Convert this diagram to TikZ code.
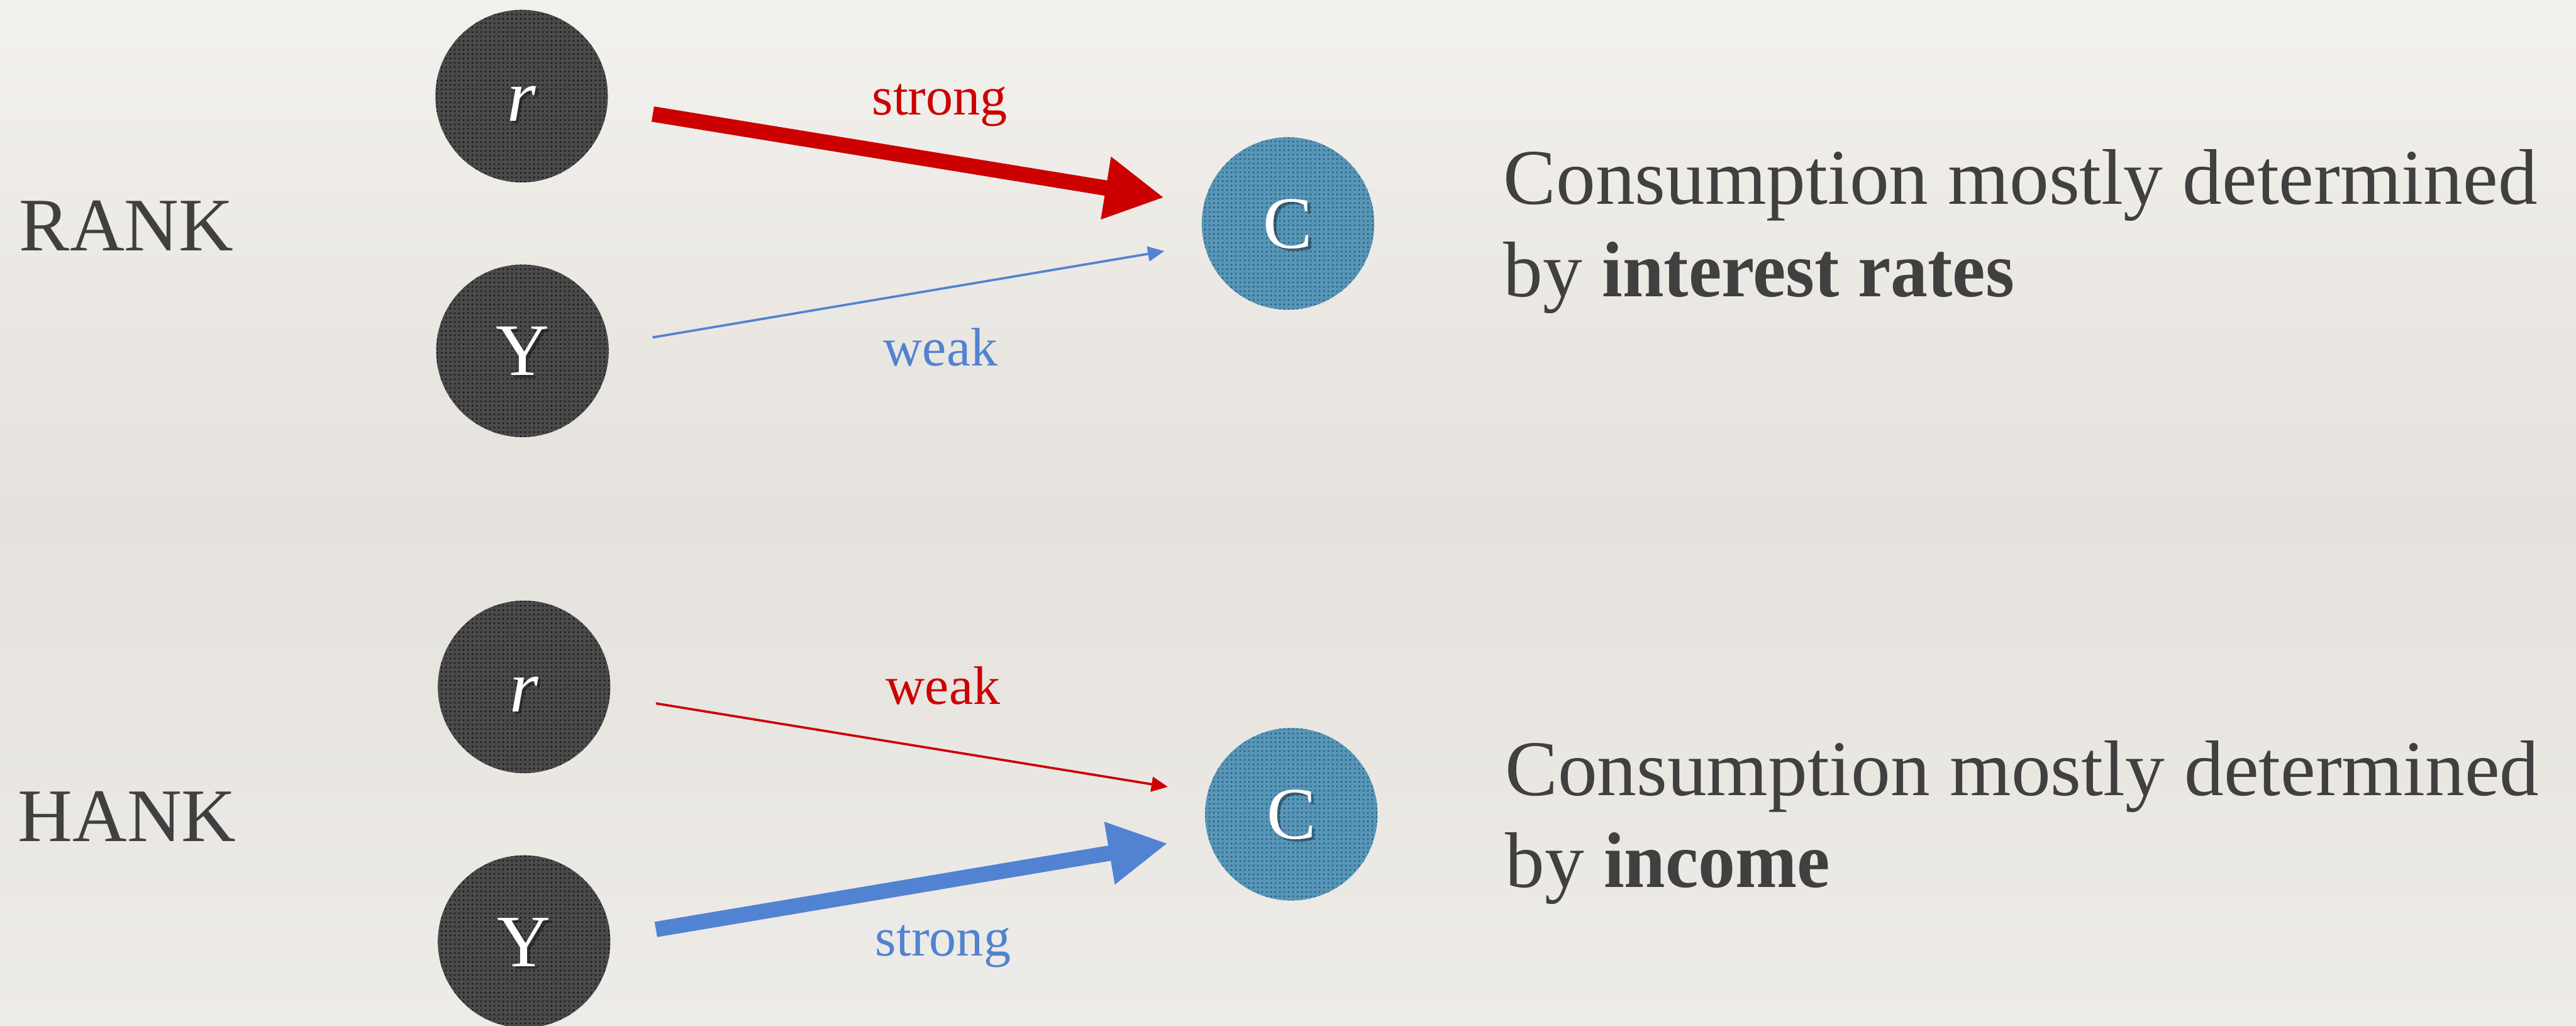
\documentclass[tikz,border=0pt]{standalone}
\usepackage{fontspec}
\setmainfont{Liberation Serif}[BoldFeatures={FakeStretch=0.94}]
\usetikzlibrary{arrows.meta,patterns.meta}

\definecolor{paperTop}{HTML}{F3F1ED}
\definecolor{paperMid}{HTML}{E5E2DD}
\definecolor{paperBot}{HTML}{EEECE8}
\definecolor{ink}{HTML}{404040}
\definecolor{strongred}{HTML}{CC0000}
\definecolor{softblue}{HTML}{5282D2}
\definecolor{ballgrey}{HTML}{4A4A4A}
\definecolor{balldot}{HTML}{1A1A1A}
\definecolor{cblue}{HTML}{5896B8}
\definecolor{cdot}{HTML}{2A6080}

% fine halftone dots used inside the variable circles
\tikzdeclarepattern{
  name=dotgrid,
  type=uncolored,
  bottom left={(0pt,0pt)},
  top right={(2.5pt,2.5pt)},
  tile size={(2.5pt,2.5pt)},
  code={\pgfpathcircle{\pgfpoint{1.25pt}{1.25pt}}{0.7pt}\pgfusepath{fill}}
}

\begin{document}
\begin{tikzpicture}[x=1pt,y=-1pt,
  ball/.style n args={3}{circle, minimum size=105pt, inner sep=0pt, fill=#1,
    text=white, text height=30pt, text depth=0pt,
    font=\fontsize{45}{45}\selectfont,
    path picture={
      \fill[pattern=dotgrid, pattern color=#2]
        (path picture bounding box.south west) rectangle
        (path picture bounding box.north east);
      \node[text=black, opacity=0.35, inner sep=0pt, text height=30pt,
        text depth=0pt, font=\fontsize{45}{45}\selectfont]
        at ([shift={(1.6,1.6)}]path picture bounding box.center) {#3};
    }},
  greyball/.style={ball={ballgrey}{balldot}{#1}},
  blueball/.style={ball={cblue}{cdot}{#1}},
  model/.style={text=ink, inner sep=0pt, anchor=base,
    font=\fontsize{46}{46}\selectfont},
  desc/.style={text=ink, inner sep=0pt, anchor=base west,
    font=\fontsize{48}{56}\selectfont},
  tag/.style={inner sep=0pt, anchor=base, font=\fontsize{33}{33}\selectfont},
  bigarrow/.style={line width=9.4pt, -{Triangle[length=36pt,width=36pt]}},
  thinarrow/.style={line width=1.4pt, -{Triangle[length=10pt,width=9pt]}}
]
% paper background
\fill[top color=paperTop, bottom color=paperBot, middle color=paperMid]
  (0,0) rectangle (1568,624);
\useasboundingbox (0,0) rectangle (1568,624);

% ---------------- RANK ----------------
\node[model] (rank) at (77,152.4) {RANK};
\node[greyball=\textit{r}] (rT) at (317.5,58.5) {\textit{r}};
\node[greyball=Y] (yT) at (318,213.5) {Y};
\node[blueball=C] (cT) at (784,136) {C};

\draw[bigarrow, strongred, shorten <=27.9pt, shorten >=24.3pt] (rT.-7) -- (cT.167);
\draw[thinarrow, softblue, shorten <=27pt, shorten >=24.5pt] (yT.4.5) -- (cT.194);

\node[tag, text=strongred] (sT) at (572,70) {strong};
\node[tag, text=softblue] (wT) at (572.5,222.6) {weak};

\node[desc] (dT1) at (915,124.4) {Consumption mostly determined};
\node[desc] (dT2) at (915,180.4) {by \textbf{interest rates}};

% ---------------- HANK ----------------
\node[model] (hank) at (77.4,511.9) {HANK};
\node[greyball=\textit{r}] (rB) at (319,418) {\textit{r}};
\node[greyball=Y] (yB) at (319,573) {Y};
\node[blueball=C] (cB) at (786,495.5) {C};

\draw[thinarrow, strongred, shorten <=28.2pt, shorten >=24.3pt] (rB.-6.7) -- (cB.166);
\draw[bigarrow, softblue, shorten <=28pt, shorten >=24.6pt] (yB.3.7) -- (cB.195);

\node[tag, text=strongred] (wB) at (574,428.6) {weak};
\node[tag, text=softblue] (sB) at (574,581.8) {strong};

\node[desc] (dB1) at (916,484) {Consumption mostly determined};
\node[desc] (dB2) at (916,540) {by \textbf{income}};
\end{tikzpicture}
\end{document}
